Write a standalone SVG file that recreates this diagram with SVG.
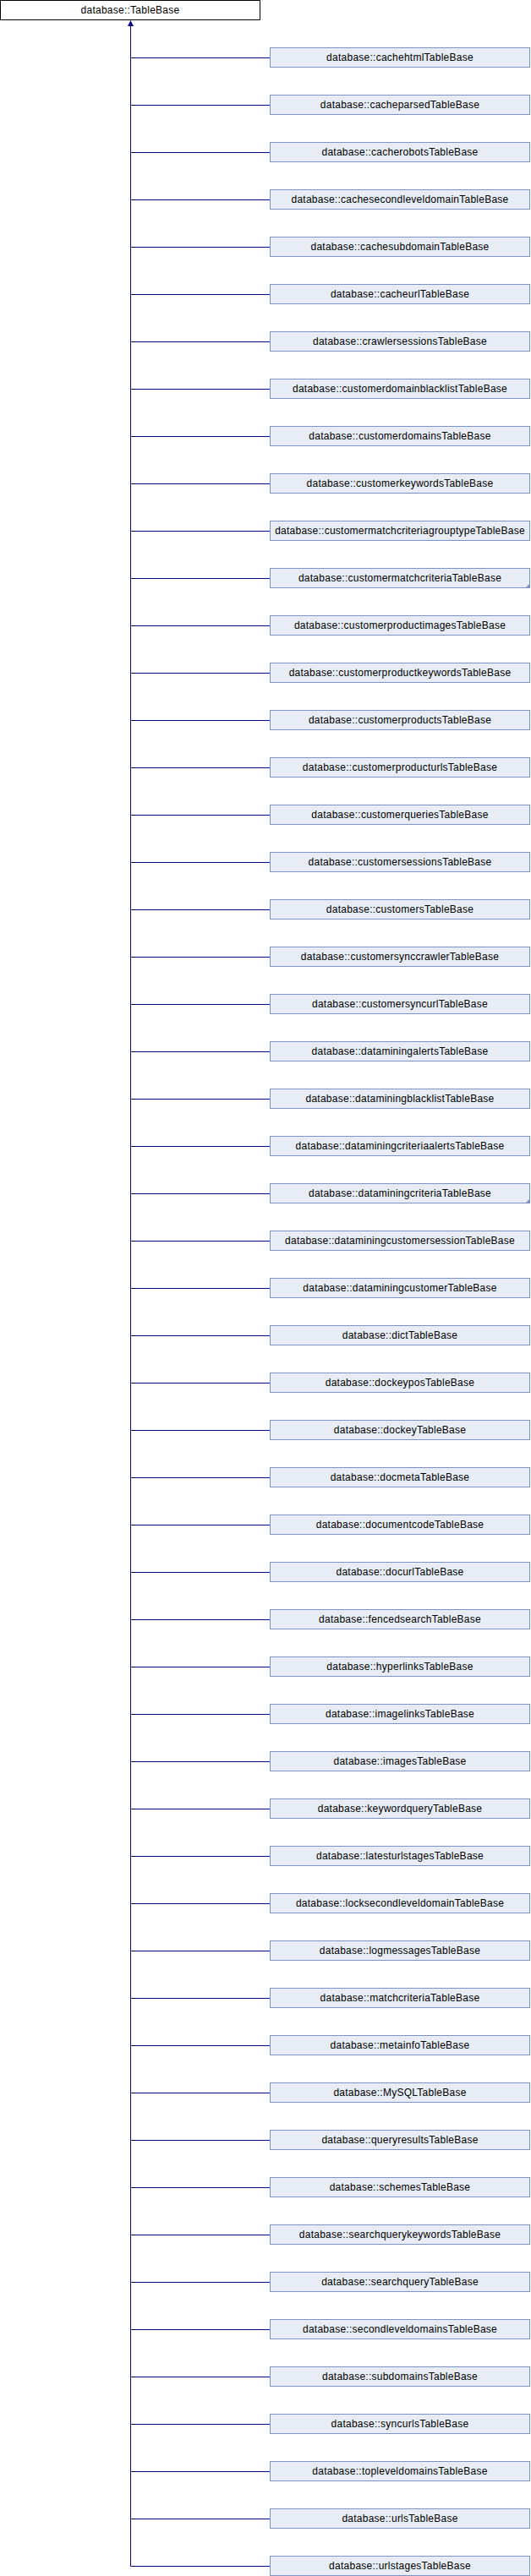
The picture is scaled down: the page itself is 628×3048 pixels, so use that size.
<svg xmlns="http://www.w3.org/2000/svg" width="628" height="3048" viewBox="0 0 628 3048">
<defs>
<style>
text{font-family:"Liberation Sans",Arial,sans-serif;font-size:12px;letter-spacing:0.25px;fill:#000;text-anchor:middle}
.base{fill:#fff;stroke:#000;stroke-width:1}
.cls{fill:#E8ECF5;stroke:#7B92C6;stroke-width:1}
.edge{fill:none;stroke:#00008B;stroke-width:1}
.more{fill:#7B92C6;stroke:none}
</style>
</defs>
<g id="connectors">
<path class="edge" d="M154.5 30V3036.5"/>
<polygon points="154.5,24 151,31 158,31" fill="#00008B"/>
<path class="edge" d="M154.5 68.5H319 M154.5 124.5H319 M154.5 180.5H319 M154.5 236.5H319 M154.5 292.5H319 M154.5 348.5H319 M154.5 404.5H319 M154.5 460.5H319 M154.5 516.5H319 M154.5 572.5H319 M154.5 628.5H319 M154.5 684.5H319 M154.5 740.5H319 M154.5 796.5H319 M154.5 852.5H319 M154.5 908.5H319 M154.5 964.5H319 M154.5 1020.5H319 M154.5 1076.5H319 M154.5 1132.5H319 M154.5 1188.5H319 M154.5 1244.5H319 M154.5 1300.5H319 M154.5 1356.5H319 M154.5 1412.5H319 M154.5 1468.5H319 M154.5 1524.5H319 M154.5 1580.5H319 M154.5 1636.5H319 M154.5 1692.5H319 M154.5 1748.5H319 M154.5 1804.5H319 M154.5 1860.5H319 M154.5 1916.5H319 M154.5 1972.5H319 M154.5 2028.5H319 M154.5 2084.5H319 M154.5 2140.5H319 M154.5 2196.5H319 M154.5 2252.5H319 M154.5 2308.5H319 M154.5 2364.5H319 M154.5 2420.5H319 M154.5 2476.5H319 M154.5 2532.5H319 M154.5 2588.5H319 M154.5 2644.5H319 M154.5 2700.5H319 M154.5 2756.5H319 M154.5 2812.5H319 M154.5 2868.5H319 M154.5 2924.5H319 M154.5 2980.5H319 M154.5 3036.5H319"/>
</g>
<g id="TableBase"><rect class="base" x="0.5" y="0.5" width="307" height="23"/><text x="154" y="16">database::TableBase</text></g>
<g id="n0" transform="translate(0,0)"><rect class="cls" x="319.5" y="56.5" width="307" height="23"/><text x="473" y="72">database::cachehtmlTableBase</text></g>
<g id="n1" transform="translate(0,56)"><rect class="cls" x="319.5" y="56.5" width="307" height="23"/><text x="473" y="72">database::cacheparsedTableBase</text></g>
<g id="n2" transform="translate(0,112)"><rect class="cls" x="319.5" y="56.5" width="307" height="23"/><text x="473" y="72">database::cacherobotsTableBase</text></g>
<g id="n3" transform="translate(0,168)"><rect class="cls" x="319.5" y="56.5" width="307" height="23"/><text x="473" y="72">database::cachesecondleveldomainTableBase</text></g>
<g id="n4" transform="translate(0,224)"><rect class="cls" x="319.5" y="56.5" width="307" height="23"/><text x="473" y="72">database::cachesubdomainTableBase</text></g>
<g id="n5" transform="translate(0,280)"><rect class="cls" x="319.5" y="56.5" width="307" height="23"/><text x="473" y="72">database::cacheurlTableBase</text></g>
<g id="n6" transform="translate(0,336)"><rect class="cls" x="319.5" y="56.5" width="307" height="23"/><text x="473" y="72">database::crawlersessionsTableBase</text></g>
<g id="n7" transform="translate(0,392)"><rect class="cls" x="319.5" y="56.5" width="307" height="23"/><text x="473" y="72">database::customerdomainblacklistTableBase</text></g>
<g id="n8" transform="translate(0,448)"><rect class="cls" x="319.5" y="56.5" width="307" height="23"/><text x="473" y="72">database::customerdomainsTableBase</text></g>
<g id="n9" transform="translate(0,504)"><rect class="cls" x="319.5" y="56.5" width="307" height="23"/><text x="473" y="72">database::customerkeywordsTableBase</text></g>
<g id="n10" transform="translate(0,560)"><rect class="cls" x="319.5" y="56.5" width="307" height="23"/><text x="473" y="72">database::customermatchcriteriagrouptypeTableBase</text></g>
<g id="n11" transform="translate(0,616)"><rect class="cls" x="319.5" y="56.5" width="307" height="23"/><text x="473" y="72">database::customermatchcriteriaTableBase</text><polygon class="more" points="627,74 627,80 621,80"/></g>
<g id="n12" transform="translate(0,672)"><rect class="cls" x="319.5" y="56.5" width="307" height="23"/><text x="473" y="72">database::customerproductimagesTableBase</text></g>
<g id="n13" transform="translate(0,728)"><rect class="cls" x="319.5" y="56.5" width="307" height="23"/><text x="473" y="72">database::customerproductkeywordsTableBase</text></g>
<g id="n14" transform="translate(0,784)"><rect class="cls" x="319.5" y="56.5" width="307" height="23"/><text x="473" y="72">database::customerproductsTableBase</text></g>
<g id="n15" transform="translate(0,840)"><rect class="cls" x="319.5" y="56.5" width="307" height="23"/><text x="473" y="72">database::customerproducturlsTableBase</text></g>
<g id="n16" transform="translate(0,896)"><rect class="cls" x="319.5" y="56.5" width="307" height="23"/><text x="473" y="72">database::customerqueriesTableBase</text></g>
<g id="n17" transform="translate(0,952)"><rect class="cls" x="319.5" y="56.5" width="307" height="23"/><text x="473" y="72">database::customersessionsTableBase</text></g>
<g id="n18" transform="translate(0,1008)"><rect class="cls" x="319.5" y="56.5" width="307" height="23"/><text x="473" y="72">database::customersTableBase</text></g>
<g id="n19" transform="translate(0,1064)"><rect class="cls" x="319.5" y="56.5" width="307" height="23"/><text x="473" y="72">database::customersynccrawlerTableBase</text></g>
<g id="n20" transform="translate(0,1120)"><rect class="cls" x="319.5" y="56.5" width="307" height="23"/><text x="473" y="72">database::customersyncurlTableBase</text></g>
<g id="n21" transform="translate(0,1176)"><rect class="cls" x="319.5" y="56.5" width="307" height="23"/><text x="473" y="72">database::dataminingalertsTableBase</text></g>
<g id="n22" transform="translate(0,1232)"><rect class="cls" x="319.5" y="56.5" width="307" height="23"/><text x="473" y="72">database::dataminingblacklistTableBase</text></g>
<g id="n23" transform="translate(0,1288)"><rect class="cls" x="319.5" y="56.5" width="307" height="23"/><text x="473" y="72">database::dataminingcriteriaalertsTableBase</text></g>
<g id="n24" transform="translate(0,1344)"><rect class="cls" x="319.5" y="56.5" width="307" height="23"/><text x="473" y="72">database::dataminingcriteriaTableBase</text><polygon class="more" points="627,74 627,80 621,80"/></g>
<g id="n25" transform="translate(0,1400)"><rect class="cls" x="319.5" y="56.5" width="307" height="23"/><text x="473" y="72">database::dataminingcustomersessionTableBase</text></g>
<g id="n26" transform="translate(0,1456)"><rect class="cls" x="319.5" y="56.5" width="307" height="23"/><text x="473" y="72">database::dataminingcustomerTableBase</text></g>
<g id="n27" transform="translate(0,1512)"><rect class="cls" x="319.5" y="56.5" width="307" height="23"/><text x="473" y="72">database::dictTableBase</text></g>
<g id="n28" transform="translate(0,1568)"><rect class="cls" x="319.5" y="56.5" width="307" height="23"/><text x="473" y="72">database::dockeyposTableBase</text></g>
<g id="n29" transform="translate(0,1624)"><rect class="cls" x="319.5" y="56.5" width="307" height="23"/><text x="473" y="72">database::dockeyTableBase</text></g>
<g id="n30" transform="translate(0,1680)"><rect class="cls" x="319.5" y="56.5" width="307" height="23"/><text x="473" y="72">database::docmetaTableBase</text></g>
<g id="n31" transform="translate(0,1736)"><rect class="cls" x="319.5" y="56.5" width="307" height="23"/><text x="473" y="72">database::documentcodeTableBase</text></g>
<g id="n32" transform="translate(0,1792)"><rect class="cls" x="319.5" y="56.5" width="307" height="23"/><text x="473" y="72">database::docurlTableBase</text></g>
<g id="n33" transform="translate(0,1848)"><rect class="cls" x="319.5" y="56.5" width="307" height="23"/><text x="473" y="72">database::fencedsearchTableBase</text></g>
<g id="n34" transform="translate(0,1904)"><rect class="cls" x="319.5" y="56.5" width="307" height="23"/><text x="473" y="72">database::hyperlinksTableBase</text></g>
<g id="n35" transform="translate(0,1960)"><rect class="cls" x="319.5" y="56.5" width="307" height="23"/><text x="473" y="72">database::imagelinksTableBase</text></g>
<g id="n36" transform="translate(0,2016)"><rect class="cls" x="319.5" y="56.5" width="307" height="23"/><text x="473" y="72">database::imagesTableBase</text></g>
<g id="n37" transform="translate(0,2072)"><rect class="cls" x="319.5" y="56.5" width="307" height="23"/><text x="473" y="72">database::keywordqueryTableBase</text></g>
<g id="n38" transform="translate(0,2128)"><rect class="cls" x="319.5" y="56.5" width="307" height="23"/><text x="473" y="72">database::latesturlstagesTableBase</text></g>
<g id="n39" transform="translate(0,2184)"><rect class="cls" x="319.5" y="56.5" width="307" height="23"/><text x="473" y="72">database::locksecondleveldomainTableBase</text></g>
<g id="n40" transform="translate(0,2240)"><rect class="cls" x="319.5" y="56.5" width="307" height="23"/><text x="473" y="72">database::logmessagesTableBase</text></g>
<g id="n41" transform="translate(0,2296)"><rect class="cls" x="319.5" y="56.5" width="307" height="23"/><text x="473" y="72">database::matchcriteriaTableBase</text></g>
<g id="n42" transform="translate(0,2352)"><rect class="cls" x="319.5" y="56.5" width="307" height="23"/><text x="473" y="72">database::metainfoTableBase</text></g>
<g id="n43" transform="translate(0,2408)"><rect class="cls" x="319.5" y="56.5" width="307" height="23"/><text x="473" y="72">database::MySQLTableBase</text></g>
<g id="n44" transform="translate(0,2464)"><rect class="cls" x="319.5" y="56.5" width="307" height="23"/><text x="473" y="72">database::queryresultsTableBase</text></g>
<g id="n45" transform="translate(0,2520)"><rect class="cls" x="319.5" y="56.5" width="307" height="23"/><text x="473" y="72">database::schemesTableBase</text></g>
<g id="n46" transform="translate(0,2576)"><rect class="cls" x="319.5" y="56.5" width="307" height="23"/><text x="473" y="72">database::searchquerykeywordsTableBase</text></g>
<g id="n47" transform="translate(0,2632)"><rect class="cls" x="319.5" y="56.5" width="307" height="23"/><text x="473" y="72">database::searchqueryTableBase</text></g>
<g id="n48" transform="translate(0,2688)"><rect class="cls" x="319.5" y="56.5" width="307" height="23"/><text x="473" y="72">database::secondleveldomainsTableBase</text></g>
<g id="n49" transform="translate(0,2744)"><rect class="cls" x="319.5" y="56.5" width="307" height="23"/><text x="473" y="72">database::subdomainsTableBase</text></g>
<g id="n50" transform="translate(0,2800)"><rect class="cls" x="319.5" y="56.5" width="307" height="23"/><text x="473" y="72">database::syncurlsTableBase</text></g>
<g id="n51" transform="translate(0,2856)"><rect class="cls" x="319.5" y="56.5" width="307" height="23"/><text x="473" y="72">database::topleveldomainsTableBase</text></g>
<g id="n52" transform="translate(0,2912)"><rect class="cls" x="319.5" y="56.5" width="307" height="23"/><text x="473" y="72">database::urlsTableBase</text></g>
<g id="n53" transform="translate(0,2968)"><rect class="cls" x="319.5" y="56.5" width="307" height="23"/><text x="473" y="72">database::urlstagesTableBase</text></g>
</svg>
